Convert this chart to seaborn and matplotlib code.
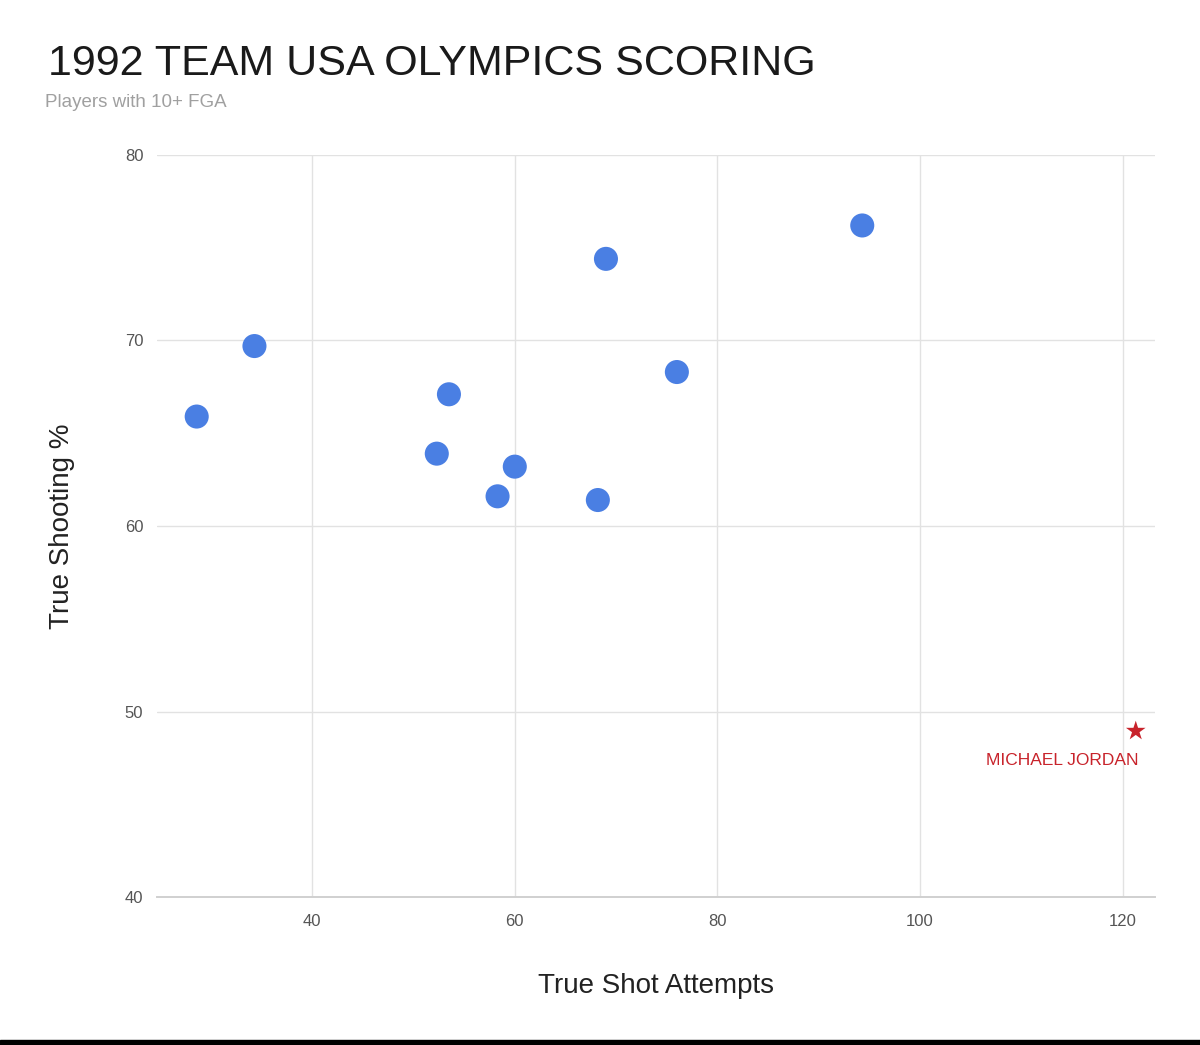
import matplotlib
matplotlib.use("Agg")
import matplotlib.pyplot as plt
import seaborn as sns
import pandas as pd
from matplotlib.patches import Rectangle

# Data
tsa = [28.6, 34.3, 52.3, 53.5, 58.3, 60.0, 68.2, 69.0, 76.0, 94.3]
ts_pct = [65.9, 69.7, 63.9, 67.1, 61.6, 63.2, 61.4, 74.4, 68.3, 76.2]
mj_tsa = [121.3]
mj_ts = [48.95]
mj_label = "MICHAEL JORDAN"
x_ticks = [40, 60, 80, 100, 120]
y_ticks = [40, 50, 60, 70, 80]

sns.set_theme(style="white")
plt.rcParams['font.family'] = ['Liberation Sans', 'DejaVu Sans']

fig = plt.figure(figsize=(12, 10.45), dpi=100)
ax = fig.add_axes([0.131, 0.1416, 0.8315, 0.7101])

df = pd.DataFrame({"tsa": tsa, "ts": ts_pct})
sns.scatterplot(data=df, x="tsa", y="ts", ax=ax, s=300, color="#4a7fe3",
                edgecolor="none", zorder=3)
dmj = pd.DataFrame({"tsa": mj_tsa, "ts": mj_ts})
sns.scatterplot(data=dmj, x="tsa", y="ts", ax=ax, s=220, marker="*",
                color="#c8232b", edgecolor="none", zorder=3)
ax.annotate(mj_label, (mj_tsa[0], mj_ts[0]), xytext=(-53, -21),
            textcoords="offset points", color="#c8232b", fontsize=12.5,
            ha="center", va="center")

ax.set_xlim(24.7, 123.2)
ax.set_ylim(40, 80)
ax.set_xticks(x_ticks)
ax.set_yticks(y_ticks)
ax.grid(True, color="#e2e2e2", linewidth=1.0)
ax.set_axisbelow(True)
for sp in ["top", "right", "left"]:
    ax.spines[sp].set_visible(False)
ax.spines["bottom"].set_color("#d0d0d0")
ax.spines["bottom"].set_linewidth(1.4)
ax.tick_params(axis="both", length=0, labelsize=12, colors="#555555")
ax.tick_params(axis="y", pad=10)
ax.tick_params(axis="x", pad=12)

ax.set_xlabel("True Shot Attempts", fontsize=20, color="#222222", labelpad=32)
ax.set_ylabel("True Shooting %", fontsize=20, color="#222222", labelpad=36)

fig.text(0.04, 0.928, "1992 TEAM USA OLYMPICS SCORING", fontsize=31,
         color="#1a1a1a", ha="left", va="baseline")
fig.text(0.0375, 0.8976, "Players with 10+ FGA", fontsize=13.5,
         color="#a0a0a0", ha="left", va="baseline")

fig.patches.append(Rectangle((0, 0), 1, 5 / 1045, transform=fig.transFigure,
                             color="black", zorder=10))

fig.savefig("out.png", dpi=100)
